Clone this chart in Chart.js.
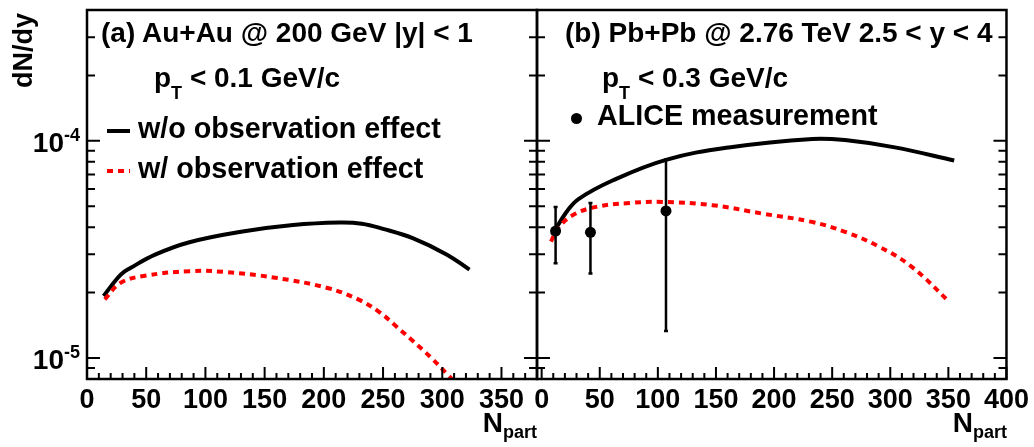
<!DOCTYPE html>
<html>
<head>
<meta charset="utf-8">
<script src="https://cdn.jsdelivr.net/npm/chart.js@4.4.1/dist/chart.umd.min.js"></script>
<style>
  body { margin: 0; background: #fff; }
  #wrap { position: relative; width: 1034px; height: 447px; overflow: hidden; }
  canvas { position: absolute; top: 0; }
  .t { position: absolute; font: bold 28px "Liberation Sans", Arial, sans-serif; line-height: 28px; white-space: nowrap; color: #000; }
  .lg { font-size: 28.7px; }
  .s { font-size: 18px; position: relative; }
</style>
</head>
<body>
<div id="wrap">
  <canvas id="left" width="560" height="447" style="left:0"></canvas>
  <canvas id="right" width="514" height="447" style="left:520px"></canvas>

  <!-- y axis title -->
  <div class="t" style="left:9px;top:113px;width:100px;text-align:right;font-size:27px;transform-origin:0 0;transform:rotate(-90deg)">dN/dy</div>

  <!-- panel (a) -->
  <div class="t" style="left:101px;top:19px">(a) Au+Au @ 200 GeV |y| &lt; 1</div>
  <div class="t" style="left:154px;top:64px">p<span class="s" style="top:12px">T</span> &lt; 0.1 GeV/c</div>
  <div style="position:absolute;left:107px;top:129px;width:23px;height:4px;background:#000"></div>
  <div class="t lg" style="left:138px;top:114px">w/o observation effect</div>
  <div style="position:absolute;left:107px;top:169px;width:23px;height:4px;background:repeating-linear-gradient(90deg,#ff0000 0 6px,transparent 6px 11px)"></div>
  <div class="t lg" style="left:138px;top:154px">w/ observation effect</div>
  <div class="t" style="right:497px;top:409px">N<span class="s" style="top:6px">part</span></div>

  <!-- panel (b) -->
  <div class="t" style="left:565px;top:19px">(b) Pb+Pb @ 2.76 TeV 2.5 &lt; y &lt; 4</div>
  <div class="t" style="left:602px;top:64px">p<span class="s" style="top:12px">T</span> &lt; 0.3 GeV/c</div>
  <div style="position:absolute;left:571px;top:113px;width:11px;height:11px;border-radius:50%;background:#000"></div>
  <div class="t lg" style="left:597px;top:101px">ALICE measurement</div>
  <div class="t" style="right:27px;top:409px">N<span class="s" style="top:6px">part</span></div>
</div>

<script>
// (a) Au+Au @ 200 GeV, |y| < 1
const auNpart = [14, 28.5, 37, 57.5, 86.5, 130, 174, 213, 232, 250, 275, 304, 323];
const auNoObs = [1.93e-5, 2.42e-5, 2.60e-5, 2.99e-5, 3.41e-5, 3.81e-5, 4.09e-5, 4.20e-5, 4.15e-5, 3.93e-5, 3.56e-5, 2.99e-5, 2.55e-5];
const auNpartObs = [15, 28.5, 49, 86.5, 115.5, 159, 203, 229, 246, 261, 275, 290, 304, 312];
const auObs = [1.86e-5, 2.22e-5, 2.39e-5, 2.51e-5, 2.49e-5, 2.34e-5, 2.10e-5, 1.86e-5, 1.64e-5, 1.40e-5, 1.20e-5, 1.01e-5, 8.45e-6, 7.6e-6];

// (b) Pb+Pb @ 2.76 TeV, 2.5 < y < 4
const pbNpart = [9, 21.5, 32, 61, 107, 161, 233, 261, 304, 355];
const pbNoObs = [3.68e-5, 4.71e-5, 5.4e-5, 6.56e-5, 8.17e-5, 9.32e-5, 1.02e-4, 1.007e-4, 9.32e-5, 8.11e-5];
const pbNpartObs = [8, 14, 27, 47, 75.5, 104, 147, 190, 232.5, 261, 290, 318, 351];
const pbObs = [3.43e-5, 3.95e-5, 4.55e-5, 4.96e-5, 5.17e-5, 5.23e-5, 5.05e-5, 4.62e-5, 4.23e-5, 3.81e-5, 3.26e-5, 2.64e-5, 1.81e-5];

// ALICE points with error bars
const aliceNpart = [12, 42, 107];
const aliceDndy = [3.84e-5, 3.79e-5, 4.75e-5];
const aliceHigh = [4.96e-5, 5.17e-5, 8.17e-5];
const aliceLow = [2.73e-5, 2.45e-5, 1.33e-5];

// axes
const xTicksLeft = [0, 50, 100, 150, 200, 250, 300, 350];
const xTicksRight = [0, 50, 100, 150, 200, 250, 300, 350, 400];
const yMajorTicks = [1e-5, 1e-4];
const yTickExp = ['-5', '-4'];
const yMin = 8e-6, yMax = 4e-4;

const FONT = '"Liberation Sans", Arial, sans-serif';

function pts(xs, ys){ return xs.map((x, i) => ({x: x, y: ys[i]})); }

// frame + inward ticks (ROOT style)
const frameTicks = {
  id: 'frameTicks',
  afterDatasetsDraw(chart, args, opts){
    const {ctx, chartArea: a, scales: {x, y}} = chart;
    ctx.save();
    ctx.strokeStyle = '#000';
    ctx.lineWidth = 2;
    ctx.beginPath();
    // x ticks along the bottom
    opts.xTicks.forEach(m => {
      for(let k = 0; k < 5; k++){
        const v = m + k * 10;
        if(v < x.min || v > x.max) continue;
        const px = x.getPixelForValue(v);
        const len = k === 0 ? 12 : 6;
        ctx.moveTo(px, a.bottom); ctx.lineTo(px, a.bottom - len);
      }
    });
    // y ticks on both sides
    for(let e = -6; e <= -3; e++){
      for(let m = 1; m <= 9; m++){
        const v = m * Math.pow(10, e);
        if(v < yMin || v > yMax) continue;
        const py = y.getPixelForValue(v);
        const len = m === 1 ? 13 : 8;
        ctx.moveTo(a.left, py); ctx.lineTo(a.left + len, py);
        ctx.moveTo(a.right, py); ctx.lineTo(a.right - len, py);
      }
    }
    ctx.stroke();
    ctx.lineWidth = 2.5;
    ctx.strokeRect(a.left, a.top, a.right - a.left, a.bottom - a.top);
    ctx.restore();
  }
};

const errorBars = {
  id: 'errorBars',
  afterDatasetsDraw(chart){
    const {ctx, scales: {x, y}} = chart;
    ctx.save();
    ctx.strokeStyle = '#000';
    ctx.lineWidth = 2.5;
    ctx.beginPath();
    aliceNpart.forEach((n, i) => {
      const px = x.getPixelForValue(n);
      const top = y.getPixelForValue(aliceHigh[i]);
      const bot = y.getPixelForValue(aliceLow[i]);
      ctx.moveTo(px, top); ctx.lineTo(px, bot);
      ctx.moveTo(px - 2, top); ctx.lineTo(px + 2, top);
      ctx.moveTo(px - 2, bot); ctx.lineTo(px + 2, bot);
    });
    ctx.stroke();
    ctx.restore();
  }
};

function makeOptions(xmin, xmax, xTicks, yWidth, pad){
  return {
    responsive: false,
    animation: false,
    events: [],
    layout: { padding: pad, autoPadding: false },
    plugins: { legend: { display: false }, tooltip: { enabled: false }, frameTicks: { xTicks: xTicks } },
    scales: {
      x: {
        type: 'linear', min: xmin, max: xmax,
        grid: { display: false, drawTicks: false },
        border: { display: false },
        ticks: { color: '#000', font: { family: FONT, size: 27, weight: 'bold' }, padding: 5, autoSkip: false, maxRotation: 0,
                 callback: v => String(v) },
        afterBuildTicks: s => { s.ticks = xTicks.map(v => ({ value: v })); },
        afterFit: s => { s.height = 68; }
      },
      y: {
        type: 'logarithmic', min: yMin, max: yMax,
        display: yWidth > 0,
        grid: { display: false, drawTicks: false },
        border: { display: false },
        ticks: { display: false },
        afterFit: s => { s.width = yWidth; }
      }
    }
  };
}

const curve = { pointRadius: 0, tension: 0.4, fill: false, borderWidth: 4 };

const leftChart = new Chart(document.getElementById('left'), {
  type: 'line',
  data: {
    datasets: [
      Object.assign({ data: pts(auNpartObs, auObs), borderColor: '#ff0000', borderDash: [6, 5] }, curve),
      Object.assign({ data: pts(auNpart, auNoObs), borderColor: '#000' }, curve)
    ]
  },
  options: makeOptions(0, 380, xTicksLeft, 87, { left: 0, right: 23, top: 10, bottom: 0 }),
  plugins: [frameTicks]
});

new Chart(document.getElementById('right'), {
  type: 'line',
  data: {
    datasets: [
      { type: 'scatter', data: pts(aliceNpart, aliceDndy), backgroundColor: '#000', borderWidth: 0, pointRadius: 5.5 },
      Object.assign({ data: pts(pbNpartObs, pbObs), borderColor: '#ff0000', borderDash: [6, 5] }, curve),
      Object.assign({ data: pts(pbNpart, pbNoObs), borderColor: '#000' }, curve)
    ]
  },
  options: makeOptions(-4, 400, xTicksRight, 0, { left: 17, right: 25, top: 10, bottom: 0 }),
  plugins: [frameTicks, errorBars]
});

// y tick labels 10^n placed from the log scale
const wrap = document.getElementById('wrap');
yMajorTicks.forEach((v, i) => {
  const py = leftChart.scales.y.getPixelForValue(v);
  const d = document.createElement('div');
  d.className = 't';
  d.style.right = (1034 - 80) + 'px';
  d.style.top = (py + 12 - 23.7) + 'px';
  d.innerHTML = '10<span class="s" style="top:-11px">' + yTickExp[i] + '</span>';
  wrap.appendChild(d);
});
</script>
</body>
</html>
